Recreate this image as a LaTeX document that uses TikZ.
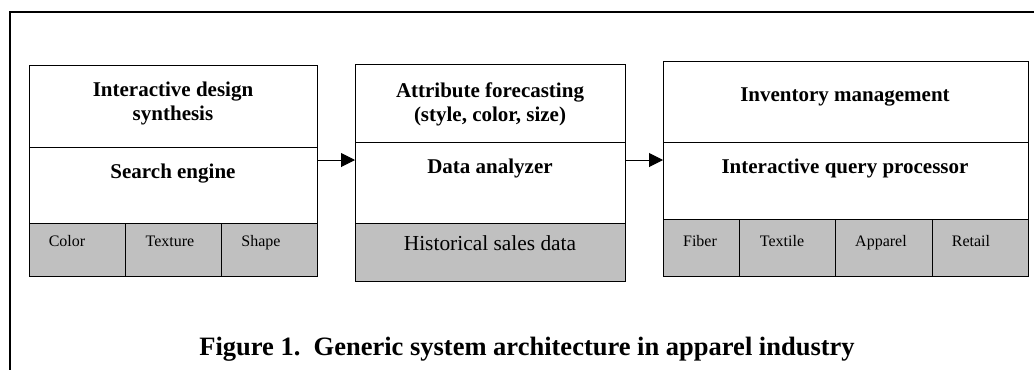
\documentclass[tikz,border=0pt]{standalone}
\usepackage{fontspec}
\setmainfont{Liberation Serif}
\usetikzlibrary{arrows.meta}
\definecolor{cellgray}{RGB}{192,192,192}
\tikzset{
  cell/.style={draw=black, line width=1pt, anchor=north west, inner sep=0pt, outer sep=0pt},
  graycell/.style={cell, fill=cellgray},
  title/.style={font=\bfseries\fontsize{21}{24}\selectfont, anchor=base, align=center, inner sep=0pt},
  small/.style={font=\fontsize{16}{19}\selectfont, anchor=base, inner sep=0pt},
  big/.style={font=\fontsize{21.4}{24}\selectfont, anchor=base, inner sep=0pt},
  caption/.style={font=\bfseries\fontsize{26.5}{30}\selectfont, anchor=base, inner sep=0pt},
  frame/.style={line width=1.5pt},
  arr/.style={line width=1pt, -{Triangle[length=14pt,width=14pt]}}
}
\begin{document}
\begin{tikzpicture}[x=1pt,y=-1pt]
\useasboundingbox (0,0) rectangle (1034,370);
\draw[frame] (1034,12) -- (10,12) -- (10,370);

% Box 1
\node[cell, minimum width=288, minimum height=82] (b1top) at (29,65) {};
\node[cell, minimum width=288, minimum height=76] (b1mid) at (29,147) {};
\node[graycell, minimum width=96, minimum height=53] (b1c1) at (29,223) {};
\node[graycell, minimum width=96, minimum height=53] (b1c2) at (125,223) {};
\node[graycell, minimum width=96, minimum height=53] (b1c3) at (221,223) {};
\node[title] (t1a) at (173,120) {Interactive design\\synthesis};
\node[title] (t1b) at (173,178) {Search engine};
\node[small] (l1a) at (67,246) {Color};
\node[small] (l1b) at (170,246) {Texture};
\node[small] (l1c) at (261,246) {Shape};

% Box 2
\node[cell, minimum width=270, minimum height=78] (b2top) at (355,64) {};
\node[cell, minimum width=270, minimum height=81] (b2mid) at (355,142) {};
\node[graycell, minimum width=270, minimum height=58] (b2bot) at (355,223) {};
\node[title] (t2a) at (490,121) {Attribute forecasting\\(style, color, size)};
\node[title] (t2b) at (490,173) {Data analyzer};
\node[big] (l2a) at (490,250) {Historical sales data};

% Box 3
\node[cell, minimum width=365, minimum height=81] (b3top) at (663,61) {};
\node[cell, minimum width=365, minimum height=77] (b3mid) at (663,142) {};
\node[graycell, minimum width=76, minimum height=57] (b3c1) at (663,219) {};
\node[graycell, minimum width=96, minimum height=57] (b3c2) at (739,219) {};
\node[graycell, minimum width=97, minimum height=57] (b3c3) at (835,219) {};
\node[graycell, minimum width=96, minimum height=57] (b3c4) at (932,219) {};
\node[title] (t3a) at (845,101) {Inventory management};
\node[title] (t3b) at (845,173) {Interactive query processor};
\node[small] (l3a) at (700,246) {Fiber};
\node[small] (l3b) at (782,246) {Textile};
\node[small] (l3c) at (881,246) {Apparel};
\node[small] (l3d) at (971,246) {Retail};

% Arrows
\coordinate (a1) at (b1mid.east |- 0,160);
\coordinate (a2) at (b2mid.east |- 0,160);
\draw[arr] (a1) -- (a1 -| b2mid.west);
\draw[arr] (a2) -- (a2 -| b3mid.west);

% Caption
\node[caption] (cap) at (527,355) {Figure 1.\ \ Generic system architecture in apparel industry};
\end{tikzpicture}
\end{document}
